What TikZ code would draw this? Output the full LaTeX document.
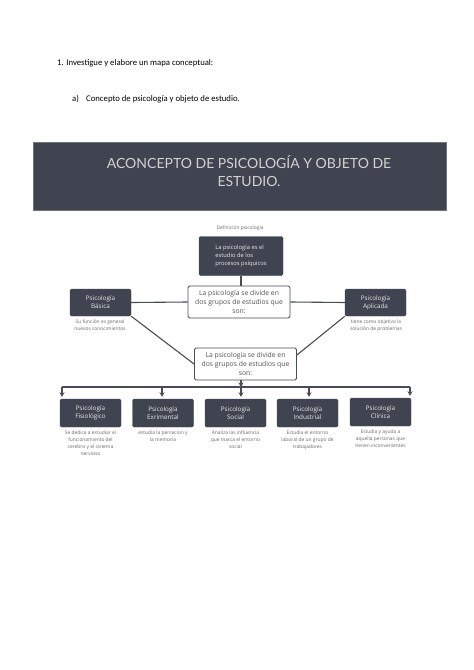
\documentclass[tikz,border=0pt]{standalone}
\usepackage{fontspec}
\setmainfont{Open Sans}
\newfontfamily\carlito{Carlito}
\newfontfamily\lato{Lato}
\usetikzlibrary{arrows.meta}
\definecolor{boxdark}{RGB}{64,68,80}
\definecolor{linegray}{RGB}{72,76,86}
\definecolor{txtgray}{RGB}{105,105,105}
\begin{document}
\begin{tikzpicture}[x=1pt, y=-1pt,
 darkbox/.style={fill=boxdark, draw=boxdark, rounded corners=1.5pt, text=white!92!black, inner sep=0pt,
  minimum width=61pt, minimum height=27pt, align=center, font=\fontsize{6.3}{8}\selectfont},
 whitebox/.style={draw=linegray, line width=0.9pt, rounded corners=1.5pt, fill=white, text=black!68,
  inner sep=0pt, minimum width=102pt, minimum height=32pt, align=center, font=\fontsize{6.8}{9.4}\selectfont},
 note/.style={text=txtgray, align=center, inner sep=0pt, font=\fontsize{4.9}{7}\selectfont},
 link/.style={draw=linegray, line width=1.1pt},
 arr/.style={link, -{Stealth[length=4.5pt, width=5pt]}, shorten >=2pt}
]
\useasboundingbox (0,0) rectangle (474,670);
% header
\node[anchor=west, inner sep=0pt, font=\carlito\fontsize{8.7}{10}\selectfont] (task) at (57,63) {1. Investigue y elabore un mapa conceptual:};
\node[anchor=west, inner sep=0pt, font=\carlito\fontsize{8.7}{10}\selectfont] (item) at (72,99) {a)};
\node[anchor=west, inner sep=0pt, font=\carlito\fontsize{8.7}{10}\selectfont] (itemtext) at (86,99) {Concepto de psicología y objeto de estudio.};
% banner
\node[fill=boxdark, draw=boxdark!75!white, minimum width=413pt, minimum height=68pt, inner sep=0pt] (banner) at (239.5,176) {};
\node[align=center, inner sep=0pt, text=white!82!black, font=\lato\fontsize{14}{17.5}\selectfont] (bannertitle) at (249,171) {ACONCEPTO DE PSICOLOGÍA Y OBJETO DE\\ESTUDIO.};
% upper part
\node[note] (deftitle) at (240,228) {Definición psicología};
\node[darkbox, minimum width=84pt, minimum height=39pt, align=left, font=\fontsize{5.8}{7.6}\selectfont] (defbox) at (241,256) {La psicología es el\\ estudio de los\\ procesos psíquicos};
\node[whitebox] (divide1) at (239,302) {La psicología se divide en\\dos grupos de estudios que\\son:};
\node[darkbox] (basica) at (100.5,302.5) {Psicología\\Básica};
\node[darkbox] (aplicada) at (375.5,302.5) {Psicología\\Aplicada};
\node[note, anchor=north] (basicanote) at (100,320) {Su función es general\\nuevos conocimientos};
\node[note, anchor=north] (aplicadanote) at (376,320) {tiene como objetivo la\\solución de problemas};
\node[whitebox] (divide2) at (245.5,364) {La psicología se divide en\\dos grupos de estudios que\\son:};
\draw[link] (defbox.south) -- (defbox.south |- divide1.north);
\draw[link] (basica.east) -- (divide1.west);
\draw[link] (divide1.east) -- (aplicada.west);
\draw[link] (basica.south east) -- (divide2.west);
\draw[link] (aplicada.south west) -- ([yshift=9pt]divide2.east);
% lower part
\node[darkbox, minimum height=28pt] (fisio) at (90.5,413) {Psicología\\Fisiológico};
\node[darkbox, minimum height=28pt] (exper) at (163,413) {Psicología\\Exrimental};
\node[darkbox, minimum height=28pt] (social) at (235.5,413) {Psicología\\Social};
\node[darkbox, minimum height=28pt] (indus) at (307.5,413) {Psicología\\Industrial};
\node[darkbox, minimum height=28pt] (clinica) at (380.5,412) {Psicología\\Clínica};
\node[note, anchor=north] (fisionote) at (90.5,431) {Se dedica a estudiar el\\funcionamiento del\\cerebro y el sistema\\nervioso};
\node[note, anchor=north] (expernote) at (163,431) {estudia la percecion y\\la memoria};
\node[note, anchor=north] (socialnote) at (235.5,431) {Analiza las influencia\\que marca el entorno\\social};
\node[note, anchor=north] (indusnote) at (307.5,431) {Estudia el entorno\\laboral de un grupo de\\trabajadores};
\node[note, anchor=north] (clinicanote) at (380.5,430) {Estudia y ayuda a\\aquella personas que\\tienen inconvenientes};
\coordinate (busL) at (62,387);
\coordinate (busE) at (162,387);
\coordinate (busC) at (241,387);
\coordinate (busI) at (309,387);
\coordinate (busR) at (410,387);
\draw[link] (busL) -- (busR);
\draw[arr, shorten >=0pt] (divide2.south -| busC) -- (busC);
\draw[arr] (busL) -- (busL |- fisio.north);
\draw[arr] (busE) -- (busE |- exper.north);
\draw[arr] (busC) -- (busC |- social.north);
\draw[arr] (busI) -- (busI |- indus.north);
\draw[arr] (busR) -- (busR |- clinica.north);
\end{tikzpicture}
\end{document}
